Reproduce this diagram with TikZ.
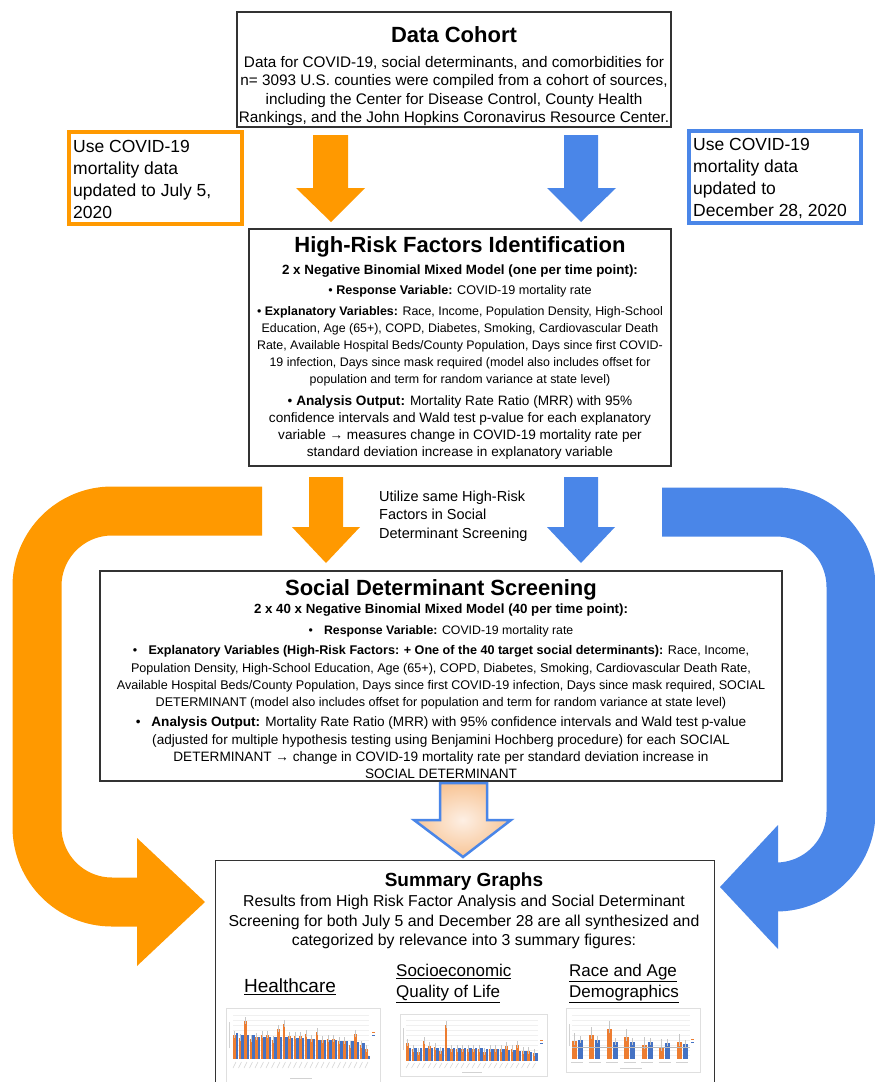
\documentclass[tikz,border=0pt]{standalone}
\usepackage{fontspec}
\setmainfont{Liberation Sans}
\definecolor{orC}{HTML}{FF9900}
\definecolor{blC}{HTML}{4A86E8}
\definecolor{xlO}{HTML}{ED7D31}
\definecolor{xlB}{HTML}{4472C4}
\definecolor{peachIn}{HTML}{FDEFE4}
\definecolor{peachOut}{HTML}{F8C596}
\newcommand\fsz[2]{\fontsize{#1}{#2}\selectfont}
\begin{document}
\begin{tikzpicture}[x=1pt,y=-1pt,
  mainbox/.style={draw=black!80, line width=1.1pt, fill=white, inner sep=0pt},
  sidebox/.style={line width=4pt, fill=white, inner sep=0pt},
  ttl/.style={inner sep=0pt, font=\fsz{22}{26}\bfseries},
  para/.style={inner sep=0pt, align=center},
  lpara/.style={inner sep=0pt, align=left, anchor=west, font=\fsz{17.5}{21.7}},
  hd/.style={inner sep=0pt, align=left, anchor=west, font=\fsz{17}{21}},
  barO/.style={fill=xlO},
  barB/.style={fill=xlB},
  errbar/.style={draw=gray!45, line width=0.3pt},
  ticklab/.style={draw=gray!35, line width=0.5pt},
  frame/.style={draw=gray!25, line width=0.4pt},
  grid/.style={draw=gray!12, line width=0.3pt}
]
\fill[white] (0,0) rectangle (875,1082);
\path[use as bounding box] (0,0) rectangle (875,1082);

% ---------- U-turn arrows ----------
\draw[orC, line width=49pt] (262,511) -- (112,511) arc[start angle=270, end angle=180, radius=75]
   -- (37,827) arc[start angle=180, end angle=90, radius=75] -- (138,902);
\fill[orC] (137,838) -- (205,902) -- (137,966) -- cycle;

\draw[blC, line width=49pt] (662,512) -- (776,512) arc[start angle=270, end angle=360, radius=75]
   -- (851,812) arc[start angle=0, end angle=90, radius=75] -- (777,887);
\fill[blC] (778,825) -- (720,887) -- (778,949) -- cycle;

% ---------- boxes ----------
\node[mainbox, minimum width=434pt, minimum height=115pt] (cohort) at (454,69.5) {};
\node[ttl] (cohortT) at (454,35) {Data Cohort};
\node[para, font=\fsz{15.3}{18.6}] (cohortB) at (454,91) {Data for COVID-19, social determinants, and comorbidities for\\
n= 3093 U.S. counties were compiled from a cohort of sources,\\
including the Center for Disease Control, County Health\\
Rankings, and the John Hopkins Coronavirus Resource Center.};

\node[sidebox, draw=orC, minimum width=173pt, minimum height=92pt] (julyBox) at (155.5,178) {};
\node[lpara] (julyT) at (73,179.5) {Use COVID-19\\mortality data\\updated to July 5,\\2020};

\node[sidebox, draw=blC, minimum width=172pt, minimum height=92pt] (decBox) at (775,177) {};
\node[lpara] (decT) at (693,178.5) {Use COVID-19\\mortality data\\updated to\\December 28, 2020};

% straight block arrows
\fill[orC] (313,135) -- (348,135) -- (348,188) -- (365,188) -- (331,222) -- (296,188) -- (313,188) -- cycle;
\fill[blC] (564,135) -- (598,135) -- (598,188) -- (616,188) -- (581,222) -- (547,188) -- (564,188) -- cycle;

\node[mainbox, minimum width=422pt, minimum height=237pt] (hrf) at (460,347.5) {};
\node[ttl] (hrfT) at (460,247) {High-Risk Factors Identification};
\node[para, font=\fsz{13.4}{16}\bfseries] (hrfS) at (460,271) {2 x Negative Binomial Mixed Model (one per time point):};
\node[para, font=\fsz{12.6}{17}] (hrfR) at (460,291) {\textbullet\ \textbf{Response Variable:} COVID-19 mortality rate};
\node[para, font=\fsz{12.4}{16.9}] (hrfE) at (460,346) {\textbullet\ \textbf{Explanatory Variables:} Race, Income, Population Density, High-School\\
Education, Age (65+), COPD, Diabetes, Smoking, Cardiovascular Death\\
Rate, Available Hospital Beds/County Population, Days since first COVID-\\
19 infection, Days since mask required (model also includes offset for\\
population and term for random variance at state level)};
\node[para, font=\fsz{13.6}{17}] (hrfA) at (460,427.5) {\textbullet\ \textbf{Analysis Output:} Mortality Rate Ratio (MRR) with 95\%\\
confidence intervals and Wald test p-value for each explanatory\\
variable → measures change in COVID-19 mortality rate per\\
standard deviation increase in explanatory variable};

\fill[orC] (309,477) -- (343,477) -- (343,527) -- (360,527) -- (326,563) -- (292,527) -- (309,527) -- cycle;
\fill[blC] (564,477) -- (598,477) -- (598,527) -- (615,527) -- (581,563) -- (547,527) -- (564,527) -- cycle;
\node[inner sep=0pt, align=left, anchor=west, font=\fsz{14.5}{18.5}] (util) at (379,516) {Utilize same High-Risk\\Factors in Social\\Determinant Screening};

\node[mainbox, minimum width=682pt, minimum height=210pt] (sds) at (441,676) {};
\node[ttl] (sdsT) at (441,590) {Social Determinant Screening};
\node[para, font=\fsz{13.3}{16}\bfseries] (sdsS) at (441,610) {2 x 40 x Negative Binomial Mixed Model (40 per time point):};
\node[para, font=\fsz{12.3}{17.3}] (sdsR) at (441,631) {\textbullet\hspace{0.9em}\textbf{Response Variable:} COVID-19 mortality rate};
\node[para, font=\fsz{12.6}{17.3}] (sdsE) at (441,677.5) {\textbullet\hspace{0.9em}\textbf{Explanatory Variables (High-Risk Factors: + One of the 40 target social determinants):} Race, Income,\\
Population Density, High-School Education, Age (65+), COPD, Diabetes, Smoking, Cardiovascular Death Rate,\\
Available Hospital Beds/County Population, Days since first COVID-19 infection, Days since mask required, SOCIAL\\
DETERMINANT (model also includes offset for population and term for random variance at state level)};
\node[para, font=\fsz{13.6}{17.3}] (sdsA) at (441,748) {\textbullet\hspace{0.8em}\textbf{Analysis Output:} Mortality Rate Ratio (MRR) with 95\% confidence intervals and Wald test p-value\\
(adjusted for multiple hypothesis testing using Benjamini Hochberg procedure) for each SOCIAL\\
DETERMINANT → change in COVID-19 mortality rate per standard deviation increase in\\
SOCIAL DETERMINANT};

% peach arrow
\shadedraw[draw=blC, line width=2.5pt, inner color=peachIn, outer color=peachOut]
  (440,783) -- (487,783) -- (487,820) -- (511,820) -- (463,857) -- (414,820) -- (440,820) -- cycle;

\node[mainbox, minimum width=499pt, minimum height=240pt, anchor=north west] (sum) at (215,860) {};
\node[inner sep=0pt, font=\fsz{19}{22}\bfseries] (sumT) at (464,882) {Summary Graphs};
\node[para, font=\fsz{15.8}{19.4}] (sumB) at (464,922) {Results from High Risk Factor Analysis and Social Determinant\\
Screening for both July 5 and December 28 are all synthesized and\\
categorized by relevance into 3 summary figures:};
\node[inner sep=0pt, font=\fsz{19}{22}] (hc) at (290,987) {\underline{Healthcare}};
\node[hd] (se) at (396,983.5) {\underline{Socioeconomic}\\\underline{Quality of Life}};
\node[hd] (ra) at (569,983.5) {\underline{Race and Age}\\\underline{Demographics}};

% chart 1
\draw[frame] (226,1008) rectangle (380,1090);
\foreach \yy in {1015,1020,...,1055} \draw[grid] (233,\yy) -- (369,\yy);
\draw[ticklab] (229,1048) -- (229,1022);
\foreach \o/\b [count=\i from 0] in {24/26,21/24,38/24,20/24,22/22,24/22,24/22,19/22,30/22,35/22,23/21,23/21,23/21,25/20,20/20,27/19,19/19,20/19,20/19,18/18,18/18,14/18,25/17,14/16,10/3} {
  \pgfmathsetmacro\xx{233+5.5*\i}
  \fill[barO] (\xx+0.3,1059) rectangle ++(2.3,-\o);
  \fill[barB] (\xx+2.7,1059) rectangle ++(2.3,-\b);
  \draw[errbar] (\xx+1.45,1059-\o-4) -- (\xx+1.45,1059-\o+3);
  \draw[ticklab] (\xx+3,1062) -- (\xx,1068);
}
\draw[ticklab] (290,1078) -- (312,1078);
\fill[xlO] (372,1033) rectangle ++(3,-1.5);
\fill[xlB] (372,1036) rectangle ++(3,-1.5);

% chart 2
\draw[frame] (400,1014) rectangle (547,1076);
\foreach \yy in {1020,1025,...,1057} \draw[grid] (406,\yy) -- (538,\yy);
\draw[ticklab] (403,1050) -- (403,1028);
\foreach \o/\b [count=\i from 0] in {18/13,12/13,9/13,20/13,15/13,14/13,10/13,36/13,12/13,12/13,12/13,12/13,12/13,12/13,9/12,12/12,12/12,12/12,15/11,12/11,16/10,10/10,10/9,8/8} {
  \pgfmathsetmacro\xx{406+5.5*\i}
  \fill[barO] (\xx+0.3,1061) rectangle ++(2.3,-\o);
  \fill[barB] (\xx+2.7,1061) rectangle ++(2.3,-\b);
  \draw[errbar] (\xx+1.45,1061-\o-4) -- (\xx+1.45,1061-\o+3);
  \draw[ticklab] (\xx+3,1063) -- (\xx,1068);
}
\draw[ticklab] (462,1072) -- (482,1072);
\fill[xlO] (540,1041) rectangle ++(3,-1.5);
\fill[xlB] (540,1044) rectangle ++(3,-1.5);

% chart 3
\draw[frame] (566,1008) rectangle (700,1072);
\foreach \yy in {1015,1020,...,1057} \draw[grid] (572,\yy) -- (690,\yy);
\draw[ticklab] (569,1046) -- (569,1024);
\foreach \o/\b [count=\i from 0] in {18/19,24/19,30/17,22/17,14/17,12/16,17/15} {
  \pgfmathsetmacro\xx{577+17.5*\i}
  \fill[barO] (\xx-5.5,1059) rectangle ++(5,-\o);
  \fill[barB] (\xx+0.5,1059) rectangle ++(5,-\b);
  \draw[errbar] (\xx-3,1059-\o-8) -- (\xx-3,1059-\o+4);
  \draw[errbar] (\xx+3,1059-\b-4) -- (\xx+3,1059-\b+3);
  \draw[ticklab] (\xx-6,1062) -- (\xx+6,1062);
}
\draw[gray!55, line width=0.4pt] (572,1047) -- (690,1047);
\draw[ticklab] (620,1068) -- (642,1068);
\fill[xlO] (691,1040) rectangle ++(3,-1.5);
\fill[xlB] (691,1043) rectangle ++(3,-1.5);
\end{tikzpicture}
\end{document}
